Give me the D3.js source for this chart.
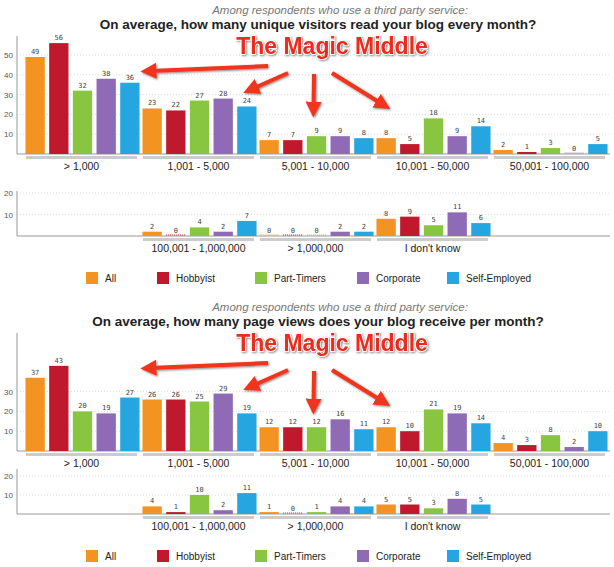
<!DOCTYPE html>
<html><head><meta charset="utf-8">
<script src="https://cdn.jsdelivr.net/npm/d3@7"></script>
<style>body{margin:0;background:#fff;font-family:"Liberation Sans",Arial,sans-serif}</style>
</head><body><div id="chart"></div>
<script>
const series = ['All', 'Hobbyist', 'Part-Timers', 'Corporate', 'Self-Employed'];
const colors = ['#f39321', '#c0182d', '#88c540', '#8f6bb5', '#25a6e0'];
const rowOneCats = ['> 1,000', '1,001 - 5,000', '5,001 - 10,000', '10,001 - 50,000', '50,001 - 100,000'];
const rowTwoCats = ['100,001 - 1,000,000', '> 1,000,000', "I don't know"];
const visitorsRowOne = [[49, 56, 32, 38, 36], [23, 22, 27, 28, 24], [7, 7, 9, 9, 8], [8, 5, 18, 9, 14], [2, 1, 3, 0, 5]];
const visitorsRowTwo = [[2, 0, 4, 2, 7], [0, 0, 0, 2, 2], [8, 9, 5, 11, 6]];
const viewsRowOne = [[37, 43, 20, 19, 27], [26, 26, 25, 29, 19], [12, 12, 12, 16, 11], [12, 10, 21, 19, 14], [4, 3, 8, 2, 10]];
const viewsRowTwo = [[4, 1, 10, 2, 11], [1, 0, 1, 4, 4], [5, 5, 3, 8, 5]];
const visitorsTicks = [10, 20, 30, 40, 50];
const viewsTicks = [10, 20, 30];
const smallTicks = [10, 20];

const svg = d3.select('#chart').append('svg').attr('width', 614).attr('height', 567);
const defs = svg.append('defs');
defs.append('marker').attr('id', 'head').attr('viewBox', '0 0 10 10').attr('refX', 4).attr('refY', 5)
    .attr('markerWidth', 4).attr('markerHeight', 4).attr('orient', 'auto')
    .append('path').attr('d', 'M0,0L10,5L0,10z').attr('fill', '#f0341c');
const shadow = defs.append('filter').attr('id', 'sh').attr('filterUnits', 'userSpaceOnUse')
    .attr('x', 0).attr('y', 0).attr('width', 614).attr('height', 567);
shadow.append('feDropShadow').attr('dx', 1).attr('dy', 1).attr('stdDeviation', 1).attr('flood-opacity', 0.5);

const x = d3.scaleBand().domain(d3.range(5)).range([25, 610]).paddingInner(0);
const inner = d3.scaleBand().domain(d3.range(5)).paddingInner(0.1).paddingOuter(0.02);

function drawPanel(g, cats, slots, rows, y, ticks, top, base) {
    const x0 = 17, x1 = 610;
    g.selectAll('.grid').data(ticks).join('line')
        .attr('x1', x0).attr('x2', x1).attr('y1', y).attr('y2', y)
        .attr('stroke', '#ddd').attr('stroke-dasharray', '1,2');
    g.selectAll('.tk').data(ticks).join('text')
        .attr('x', 4).attr('y', d => y(d) + 3).attr('font-size', 8).attr('fill', '#555').text(d => d);
    g.append('line').attr('x1', x0).attr('x2', x0).attr('y1', top).attr('y2', base).attr('stroke', '#999');
    g.append('line').attr('x1', x0).attr('x2', x1).attr('y1', base).attr('y2', base).attr('stroke', '#999');
    cats.forEach((c, i) => {
        const gx = x(slots[i]);
        inner.range([gx, gx + x.bandwidth()]);
        const grp = g.append('g');
        grp.append('rect').attr('x', gx + 1).attr('y', base + 2).attr('width', x.bandwidth() - 6).attr('height', 3).attr('fill', '#ccc');
        grp.append('text').attr('x', gx + x.bandwidth() / 2 - 2).attr('y', base + 16).attr('text-anchor', 'middle')
            .attr('font-size', 10.5).attr('fill', '#222').text(c);
        rows[i].forEach((v, k) => {
            const bx = inner(k), bw = inner.bandwidth() - 2;
            if (v === 0) {
                grp.append('line').attr('x1', bx).attr('x2', bx + bw).attr('y1', base - 1).attr('y2', base - 1)
                    .attr('stroke', colors[k]).attr('stroke-dasharray', '1,1');
            } else {
                grp.append('rect').attr('x', bx).attr('y', y(v)).attr('width', bw).attr('height', base - y(v)).attr('fill', colors[k]);
            }
            grp.append('text').attr('x', bx + bw / 2).attr('y', y(v) - 3).attr('text-anchor', 'middle')
                .attr('font-size', 7).attr('fill', '#444').attr('font-family', 'DejaVu Sans Mono').text(v);
        });
    });
}

function drawChart(oy, question, one, two, topMax, ticks, botY, bottomScale) {
    const g = svg.append('g');
    g.append('text').attr('x', 340).attr('y', oy + 14).attr('text-anchor', 'middle').attr('font-size', 11.5)
        .attr('font-style', 'italic').attr('fill', '#777').text('Among respondents who use a third party service:');
    g.append('text').attr('x', 318).attr('y', oy + 29).attr('text-anchor', 'middle').attr('font-size', 13.5)
        .attr('font-weight', 'bold').attr('fill', '#222').text(question);
    drawPanel(g.append('g'), rowOneCats, [0, 1, 2, 3, 4], one,
        d3.scaleLinear().domain([0, topMax]).range([oy + 154, oy + 154 - topMax * 1.98]), ticks, oy + 36, oy + 154);
    drawPanel(g.append('g'), rowTwoCats, [1, 2, 3], two,
        d3.scaleLinear().domain([0, 20]).range([botY, botY - 20 * bottomScale]), smallTicks, botY - 45, botY);
    series.forEach((s, k) => {
        const lx = [86, 157, 255, 357, 447][k];
        g.append('rect').attr('x', lx).attr('y', botY + 36).attr('width', 12).attr('height', 12).attr('fill', colors[k]);
        g.append('text').attr('x', lx + 19).attr('y', botY + 46).attr('font-size', 10).attr('fill', '#222').text(s);
    });
    const ann = g.append('g').attr('filter', 'url(#sh)');
    [[268, oy + 66, 150, oy + 71], [288, oy + 73, 252, oy + 89], [314, oy + 74, 313.5, oy + 108], [332, oy + 73, 382, oy + 104]]
        .forEach(a => ann.append('line').attr('x1', a[0]).attr('y1', a[1]).attr('x2', a[2]).attr('y2', a[3])
            .attr('stroke', '#f0341c').attr('stroke-width', 4).attr('marker-end', 'url(#head)'));
    ann.append('text').attr('x', 332).attr('y', oy + 54).attr('text-anchor', 'middle').attr('font-size', 23)
        .attr('font-family', 'Liberation Sans').attr('font-weight', 'bold').attr('fill', '#ee2a1a').attr('stroke', '#fff').attr('stroke-width', 1.5)
        .attr('paint-order', 'stroke').text('The Magic Middle');
}

drawChart(0, 'On average, how many unique visitors read your blog every month?', visitorsRowOne, visitorsRowTwo, 56, visitorsTicks, 236, 2.15);
drawChart(297, 'On average, how many page views does your blog receive per month?', viewsRowOne, viewsRowTwo, 43, viewsTicks, 514, 1.9);
</script></body></html>
